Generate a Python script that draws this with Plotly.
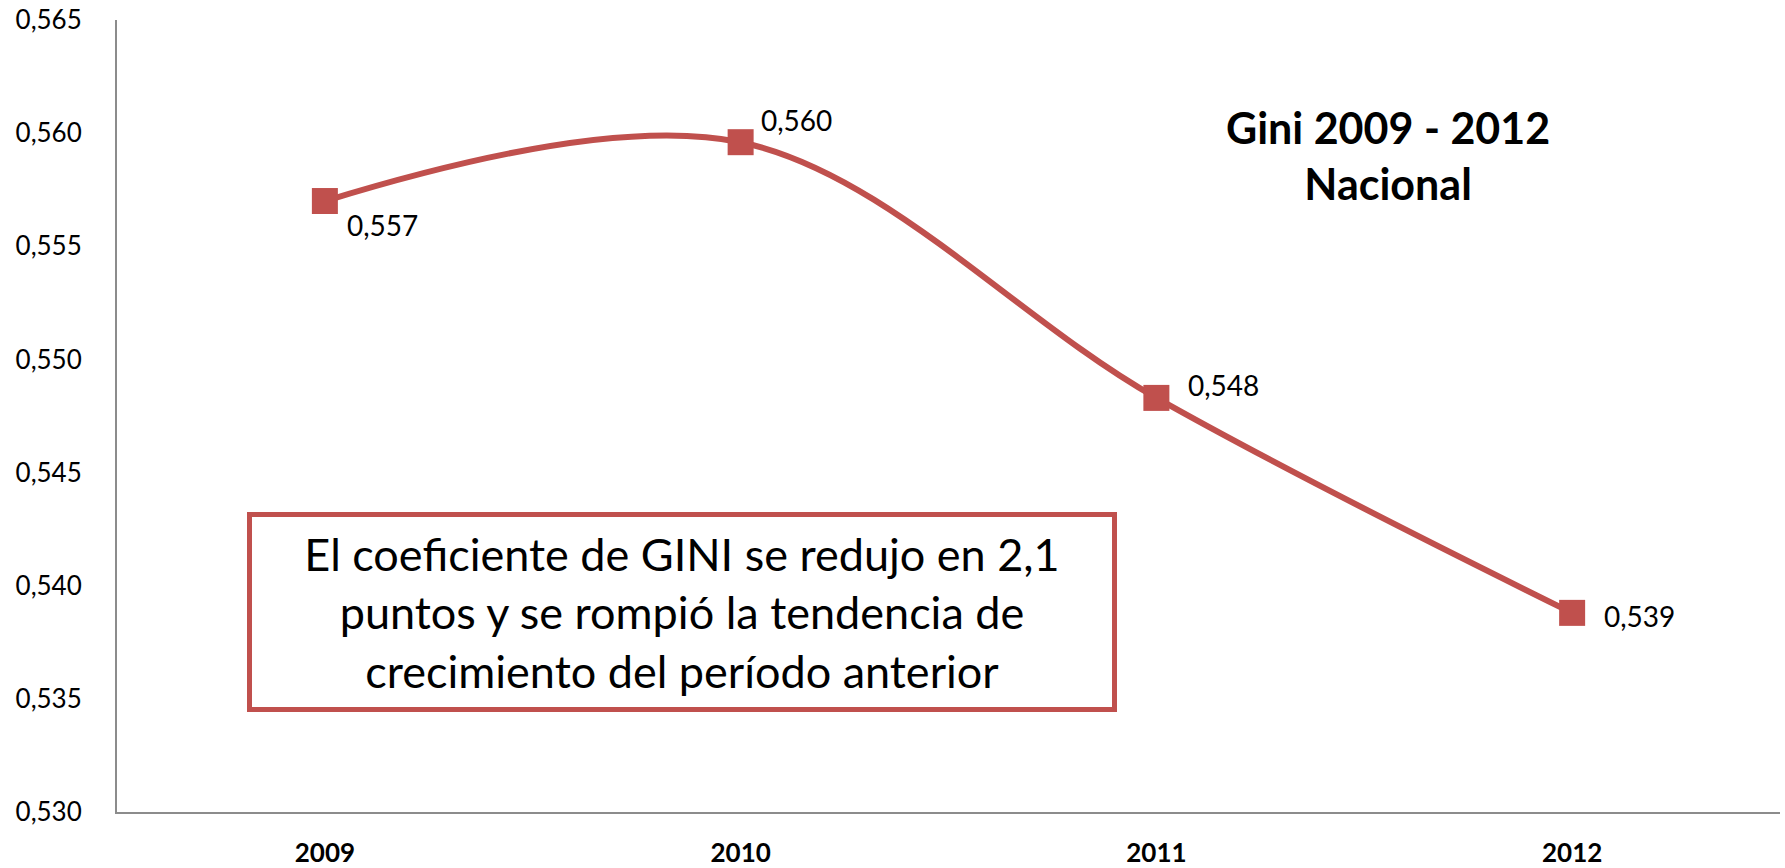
import plotly.graph_objects as go

years = ["2009", "2010", "2011", "2012"]
gini = [0.5570, 0.5596, 0.5483, 0.5388]
labels = ["0,557", "0,560", "0,548", "0,539"]
y_ticks = [0.530, 0.535, 0.540, 0.545, 0.550, 0.555, 0.560, 0.565]
y_tick_text = ["0,530", "0,535", "0,540", "0,545", "0,550", "0,555", "0,560", "0,565"]
label_offsets = [(20, -24), (18, 22), (30, 13), (30, -3)]

RED = "#C0504D"
FONT = "Lato"

fig = go.Figure()
fig.add_trace(go.Scatter(
    x=years, y=gini, mode="lines+markers",
    line=dict(color=RED, width=6, shape="spline", smoothing=1),
    marker=dict(symbol="square", size=26, color=RED),
    showlegend=False, hoverinfo="skip",
))

for i, (v, t, (dx, dy)) in enumerate(zip(gini, labels, label_offsets)):
    fig.add_annotation(x=i, y=v, text=t, showarrow=False, xanchor="left",
                       yanchor="middle", xshift=dx, yshift=dy,
                       font=dict(family=FONT, size=28, color="#000000"))

fig.add_annotation(xref="paper", yref="paper", x=0.764, y=0.829,
                   text="<b>Gini 2009 - 2012</b><br><b>Nacional</b>",
                   showarrow=False, align="center", xanchor="center", yanchor="middle",
                   font=dict(family=FONT, size=43, color="#000000"))

fig.add_annotation(xref="paper", yref="paper", x=0.34, y=0.253,
                   text="El coeficiente de GINI se redujo en 2,1<br>puntos y se rompió la tendencia de<br>crecimiento del período anterior",
                   showarrow=False, align="center", xanchor="center", yanchor="middle",
                   width=860, height=190,
                   bordercolor=RED, borderwidth=5, borderpad=0, bgcolor="white",
                   font=dict(family=FONT, size=45, color="#000000"))

fig.update_layout(
    width=1785, height=868,
    margin=dict(l=117, r=5, t=20, b=56),
    paper_bgcolor="white", plot_bgcolor="white",
    xaxis=dict(type="category", range=[-0.5, 3.5], showgrid=False, zeroline=False,
               showline=True, linecolor="#8C8C8C", linewidth=2, ticks="",
               ticklabelstandoff=17, automargin=False,
               tickfont=dict(family=FONT, size=26, color="#000000", weight="bold")),
    yaxis=dict(range=[0.530, 0.565], tickvals=y_ticks, ticktext=y_tick_text,
               showgrid=False, zeroline=False, showline=True, linecolor="#8C8C8C",
               linewidth=2, ticks="", ticklabelstandoff=28, automargin=False,
               tickfont=dict(family=FONT, size=26, color="#000000")),
)

fig.write_html("out.html", config={"displayModeBar": False},
               post_script="document.body.style.margin='0';document.body.style.overflow='hidden';")
